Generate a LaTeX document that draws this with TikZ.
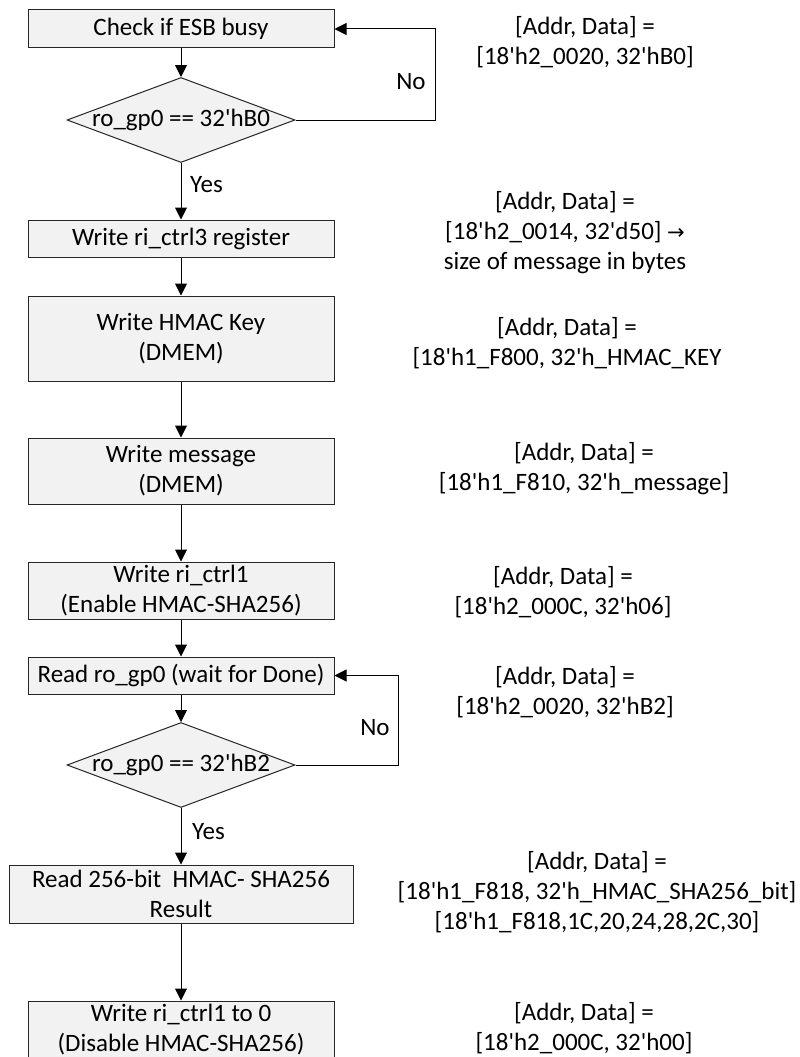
\documentclass[tikz,border=0pt]{standalone}
\usepackage{fontspec}
\setmainfont{Carlito}[Ligatures=TeXOff]
\newfontfamily\symfont{DejaVu Sans}
\usetikzlibrary{shapes.geometric,arrows.meta}
\definecolor{boxfill}{HTML}{F2F2F2}
\definecolor{edge}{HTML}{262626}
\begin{document}
\begin{tikzpicture}[x=1pt,y=-1pt,
  every node/.style={font=\fontsize{25}{30}\selectfont, text=black},
  procbox/.style={draw=edge, fill=boxfill, line width=1pt, rectangle, minimum width=306pt, inner sep=0pt, align=center},
  decide/.style={draw=edge, fill=boxfill, line width=1pt, diamond, minimum width=228pt, minimum height=85pt, inner sep=0pt},
  info/.style={align=center, inner sep=0pt},
  lbl/.style={inner sep=0pt},
  flow/.style={draw=black, line width=1pt, -{Triangle[length=12pt,width=12pt]}}
]
\useasboundingbox (0,0) rectangle (800,1057);
\fill[white] (0,0) rectangle (800,1057);

% process boxes
\node[procbox, minimum height=38pt] (b1) at (181,29) {Check if ESB busy};
\node[decide] (d1) at (181,120) {\makebox[0pt]{ro\_gp0 == 32'hB0}};
\node[procbox, minimum height=37pt] (b2) at (181,238.5) {Write ri\_ctrl3 register};
\node[procbox, minimum height=85pt] (b3) at (181,338.5) {Write HMAC Key\\(DMEM)};
\node[procbox, minimum height=66pt] (b4) at (181,471) {Write message\\(DMEM)};
\node[procbox, minimum height=57pt] (b5) at (181,590.5) {Write ri\_ctrl1\\(Enable HMAC-SHA256)};
\node[procbox, minimum height=37pt] (b6) at (181,675.5) {Read ro\_gp0 (wait for Done)};
\node[decide] (d2) at (181,765) {\makebox[0pt]{ro\_gp0 == 32'hB2}};
\node[procbox, minimum height=58pt, minimum width=344pt] (b7) at (181,894) {Read 256-bit\ \ HMAC- SHA256\\Result};
\node[procbox, minimum height=58pt] (b8) at (181,1030) {Write ri\_ctrl1 to 0\\(Disable HMAC-SHA256)};

% loop corner coordinates
\coordinate (c1a) at (435,120);
\coordinate (c1b) at (435,29);
\coordinate (c2a) at (398,765);
\coordinate (c2b) at (398,675.5);

% connectors
\draw[flow] (b1) -- (d1);
\draw[flow] (d1) -- (b2);
\draw[flow] (d1.east) -- (c1a) -- (c1b) -- (b1.east);
\draw[flow] (b2) -- (b3);
\draw[flow] (b3) -- (b4);
\draw[flow] (b4) -- (b5);
\draw[flow] (b5) -- (b6);
\draw[flow] (b6) -- (d2);
\draw[flow] (d2.east) -- (c2a) -- (c2b) -- (b6.east);
\draw[flow] (d2) -- (b7);
\draw[flow] (b7) -- (b8);

% branch labels
\node[lbl, anchor=west] (y1) at (190,185) {Yes};
\node[lbl] (n1) at (411,82) {No};
\node[lbl] (n2) at (375,728) {No};
\node[lbl, anchor=west] (y2) at (192,832) {Yes};

% address / data notes
\node[info] (t1) at (585,42) {{[}Addr, Data{]} =\\{}{[}18'h2\_0020, 32'hB0{]}};
\node[info] (t2) at (565,233) {{[}Addr, Data{]} =\\{}{[}18'h2\_0014, 32'd50{]} {\symfont\fontsize{21}{30}\selectfont →}\\{}size of message in bytes};
\node[info] (t3) at (567,343) {{[}Addr, Data{]} =\\{}{[}18'h1\_F800, 32'h\_HMAC\_KEY};
\node[info] (t4) at (584,469) {{[}Addr, Data{]} =\\{}{[}18'h1\_F810, 32'h\_message{]}};
\node[info] (t5) at (563,592) {{[}Addr, Data{]} =\\{}{[}18'h2\_000C, 32'h06{]}};
\node[info] (t6) at (565,692) {{[}Addr, Data{]} =\\{}{[}18'h2\_0020, 32'hB2{]}};
\node[info] (t7) at (597,892) {{[}Addr, Data{]} =\\{}{[}18'h1\_F818, 32'h\_HMAC\_SHA256\_bit{]}\\{}{[}18'h1\_F818,1C,20,24,28,2C,30{]}};
\node[info] (t8) at (584,1028) {{[}Addr, Data{]} =\\{}{[}18'h2\_000C, 32'h00{]}};
\end{tikzpicture}
\end{document}
